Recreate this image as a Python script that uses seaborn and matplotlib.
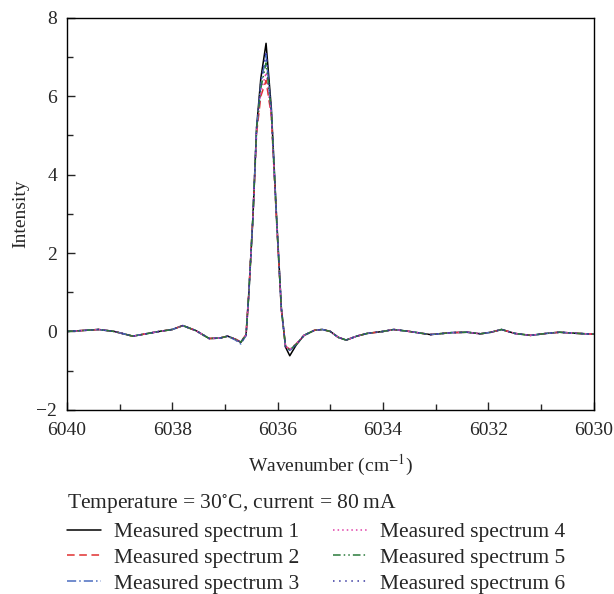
import numpy as np
import pandas as pd
import matplotlib
matplotlib.use("Agg")
import matplotlib.pyplot as plt
import seaborn as sns

# wavenumber grid (cm^-1)
wavenumber = [6040.0, 6039.75, 6039.4, 6039.1, 6038.75, 6038.5, 6038.25, 6038.0,
              6037.8, 6037.55, 6037.3, 6037.1, 6036.95, 6036.8, 6036.7, 6036.6,
              6036.55, 6036.47, 6036.4, 6036.32, 6036.22, 6036.12, 6036.02, 6035.93,
              6035.85, 6035.77, 6035.65, 6035.5, 6035.3, 6035.15, 6035.0, 6034.85,
              6034.7, 6034.5, 6034.3, 6034.0, 6033.8, 6033.5, 6033.1, 6032.7,
              6032.4, 6032.15, 6031.95, 6031.75, 6031.5, 6031.2, 6030.9, 6030.65,
              6030.3, 6030.0]

spectrum_1 = [0.00, 0.02, 0.05, 0.00, -0.12, -0.06, 0.00, 0.05,
              0.15, 0.02, -0.18, -0.17, -0.12, -0.20, -0.28, -0.10,
              0.90, 2.90, 5.20, 6.45, 7.35, 5.70, 2.90, 0.60,
              -0.40, -0.62, -0.35, -0.10, 0.03, 0.05, 0.00, -0.15,
              -0.22, -0.12, -0.05, 0.00, 0.05, 0.00, -0.08, -0.03,
              -0.02, -0.06, -0.02, 0.05, -0.05, -0.10, -0.05, -0.02,
              -0.05, -0.07]
spectrum_2 = [0.00, 0.02, 0.05, 0.00, -0.12, -0.06, 0.00, 0.05,
              0.15, 0.02, -0.18, -0.17, -0.12, -0.20, -0.26, -0.08,
              0.95, 2.90, 5.05, 6.00, 6.40, 5.50, 2.80, 0.55,
              -0.38, -0.45, -0.32, -0.10, 0.03, 0.05, 0.00, -0.15,
              -0.22, -0.12, -0.05, 0.00, 0.05, 0.00, -0.08, -0.03,
              -0.02, -0.06, -0.02, 0.05, -0.05, -0.10, -0.05, -0.02,
              -0.05, -0.07]
spectrum_3 = [0.00, 0.02, 0.05, 0.00, -0.12, -0.06, 0.00, 0.05,
              0.15, 0.02, -0.18, -0.17, -0.12, -0.22, -0.32, -0.10,
              0.90, 2.90, 5.15, 6.30, 7.05, 5.60, 2.85, 0.58,
              -0.40, -0.50, -0.33, -0.10, 0.03, 0.05, 0.00, -0.15,
              -0.22, -0.12, -0.05, 0.00, 0.05, 0.00, -0.08, -0.03,
              -0.02, -0.06, -0.02, 0.05, -0.05, -0.10, -0.05, -0.02,
              -0.05, -0.07]
spectrum_4 = [0.00, 0.02, 0.05, 0.00, -0.12, -0.06, 0.00, 0.05,
              0.15, 0.02, -0.18, -0.17, -0.12, -0.20, -0.27, -0.09,
              0.92, 2.90, 5.10, 6.10, 6.60, 5.50, 2.85, 0.57,
              -0.38, -0.46, -0.32, -0.10, 0.03, 0.05, 0.00, -0.15,
              -0.22, -0.12, -0.05, 0.00, 0.05, 0.00, -0.08, -0.03,
              -0.02, -0.06, -0.02, 0.05, -0.05, -0.10, -0.05, -0.02,
              -0.05, -0.07]
spectrum_5 = [0.00, 0.02, 0.05, 0.00, -0.12, -0.06, 0.00, 0.05,
              0.15, 0.02, -0.18, -0.17, -0.12, -0.20, -0.27, -0.09,
              0.92, 2.90, 5.15, 6.20, 6.85, 5.60, 2.85, 0.58,
              -0.39, -0.47, -0.33, -0.10, 0.03, 0.05, 0.00, -0.15,
              -0.22, -0.12, -0.05, 0.00, 0.05, 0.00, -0.08, -0.03,
              -0.02, -0.06, -0.02, 0.05, -0.05, -0.10, -0.05, -0.02,
              -0.05, -0.07]
spectrum_6 = [0.00, 0.02, 0.05, 0.00, -0.12, -0.06, 0.00, 0.05,
              0.15, 0.02, -0.18, -0.17, -0.12, -0.20, -0.28, -0.10,
              0.90, 2.90, 5.20, 6.35, 7.15, 5.65, 2.88, 0.59,
              -0.40, -0.48, -0.34, -0.10, 0.03, 0.05, 0.00, -0.15,
              -0.22, -0.12, -0.05, 0.00, 0.05, 0.00, -0.08, -0.03,
              -0.02, -0.06, -0.02, 0.05, -0.05, -0.10, -0.05, -0.02,
              -0.05, -0.07]

labels = ["Measured spectrum 1", "Measured spectrum 2", "Measured spectrum 3",
          "Measured spectrum 4", "Measured spectrum 5", "Measured spectrum 6"]
spectra = [spectrum_1, spectrum_2, spectrum_3, spectrum_4, spectrum_5, spectrum_6]
colores = ["black", "#e03030", "#4a6cc0", "#e040a8", "#2a7a3a", "#3838a0"]
estilos = ["-", (0, (5, 3)), (0, (6, 2, 1, 2)), (0, (1, 2)), (0, (5, 2, 1, 2, 1, 2)), (0, (1, 3))]

sns.set_style("white")
plt.rcParams["font.family"] = ["Liberation Serif", "DejaVu Serif"]
plt.rcParams["mathtext.fontset"] = "stix"

fig = plt.figure(figsize=(6.14, 5.94), dpi=100)
ax = fig.add_axes([0.109, 0.310, 0.858, 0.660])

for y, lab, c, ls in zip(spectra, labels, colores, estilos):
    sns.lineplot(x=wavenumber, y=y, ax=ax, color=c, linestyle=ls, linewidth=1.1,
                 label=lab, sort=False, legend=False)

ax.set_xlim(6040, 6030)
ax.set_ylim(-2, 8)
ax.set_xticks([6040, 6038, 6036, 6034, 6032, 6030])
ax.set_xticks([6039, 6037, 6035, 6033, 6031], minor=True)
ax.set_yticks([-2, 0, 2, 4, 6, 8])
ax.set_yticks([-1, 1, 3, 5, 7], minor=True)
ax.set_yticklabels(["\u22122", "0", "2", "4", "6", "8"])
ax.tick_params(axis="x", which="major", pad=9)
ax.tick_params(axis="y", which="major", pad=7)
ax.tick_params(axis="both", which="major", direction="in", length=6, width=1,
               labelsize=14, bottom=True, left=True, top=False, right=False)
ax.tick_params(axis="both", which="minor", direction="in", length=4, width=1,
               bottom=True, left=True, top=False, right=False)
for s in ax.spines.values():
    s.set_color("black")
    s.set_linewidth(1)

ax.set_xlabel("Wavenumber (cm$^{-1}$)", fontsize=14, labelpad=10)
ax.set_ylabel("Intensity", fontsize=14, labelpad=5)

# titulo de la leyenda como texto aparte
fig.text(67 / 614, 1 - 504 / 594, "Temperature = 30$^{\\circ}$C, current = 80\u2009mA",
         fontsize=15.5, ha="left", va="center")

handles, labs = ax.get_legend_handles_labels()
fig.legend(handles, labs, loc="upper left", bbox_to_anchor=(67 / 614, 1 - 522 / 594),
           ncol=2, frameon=False, fontsize=15.5, handlelength=1.6,
           columnspacing=1.55, labelspacing=0.27, handletextpad=0.6,
           borderpad=0, borderaxespad=0)

fig.savefig("out.png", dpi=100)
